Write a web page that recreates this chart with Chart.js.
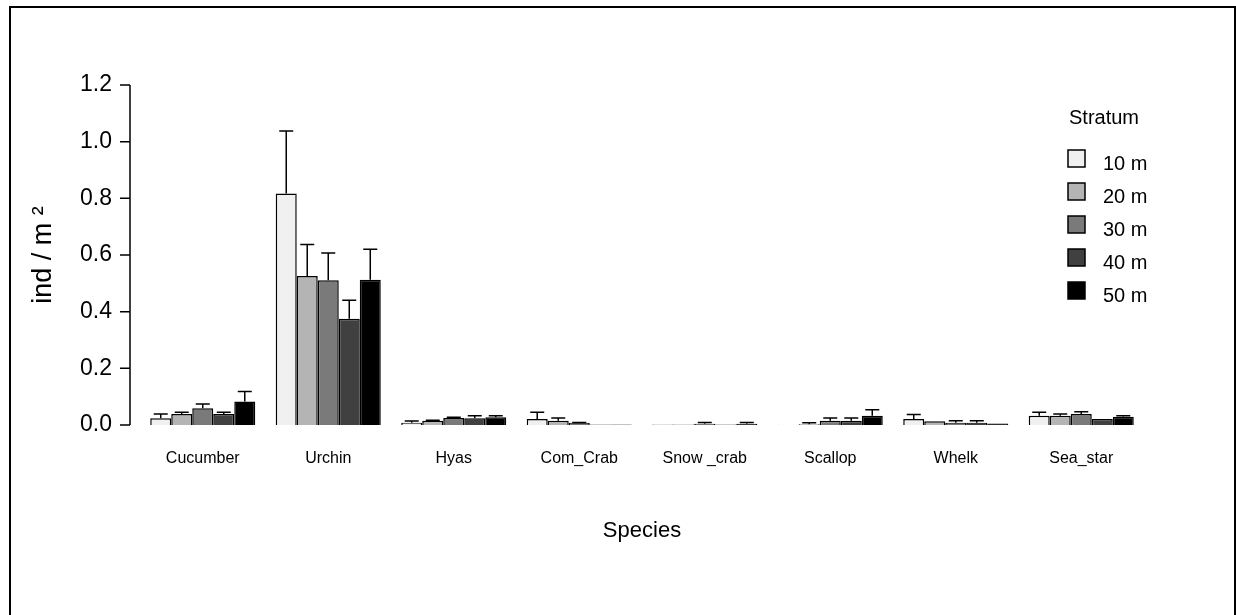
<!DOCTYPE html>
<html>
<head>
<meta charset="utf-8">
<script src="https://cdn.jsdelivr.net/npm/chart.js@4.4.1/dist/chart.umd.min.js"></script>
<style>
  html, body { margin: 0; padding: 0; background: #fff; }
</style>
</head>
<body>
<canvas id="myChart" width="1236" height="615"></canvas>
<script>
const FONT = "'Liberation Sans', Arial, sans-serif";

const species = ['Cucumber', 'Urchin', 'Hyas', 'Com_Crab', 'Snow _crab', 'Scallop', 'Whelk', 'Sea_star'];
const strata = ['10 m', '20 m', '30 m', '40 m', '50 m'];
const fills = ['#f0f0f0', '#b4b4b4', '#7a7a7a', '#404040', '#000000'];
const yTicks = [0, 0.2, 0.4, 0.6, 0.8, 1.0, 1.2];

// mean density per stratum (ind / m2)
const mean10 = [0.024, 0.817, 0.008, 0.021, 0.002, 0.001, 0.021, 0.033];
const mean20 = [0.039, 0.526, 0.015, 0.015, 0.002, 0.003, 0.013, 0.033];
const mean30 = [0.059, 0.511, 0.025, 0.008, 0.004, 0.015, 0.008, 0.039];
const mean40 = [0.039, 0.375, 0.024, 0.002, 0.002, 0.015, 0.008, 0.021];
const mean50 = [0.083, 0.513, 0.027, 0.002, 0.004, 0.033, 0.005, 0.029];

// standard errors (upper whisker only)
const se10 = [0.015, 0.221, 0.006, 0.024, 0, 0, 0.016, 0.012];
const se20 = [0.006, 0.111, 0.002, 0.010, 0, 0.005, 0, 0.006];
const se30 = [0.015, 0.096, 0.002, 0.001, 0.005, 0.010, 0.007, 0.008];
const se40 = [0.006, 0.065, 0.009, 0, 0, 0.010, 0.007, 0];
const se50 = [0.035, 0.107, 0.006, 0, 0.005, 0.021, 0, 0.004];

const means = [mean10, mean20, mean30, mean40, mean50];
const ses = [se10, se20, se30, se40, se50];

const frame = {
    id: 'frame',
    beforeDraw(chart) {
        const c = chart.ctx;
        c.save();
        c.fillStyle = '#fff';
        c.fillRect(0, 0, chart.width, chart.height);
        c.strokeStyle = '#000';
        c.lineWidth = 2;
        c.strokeRect(10, 7, 1225, 700);
        c.restore();
    }
};

// y axis line sits a bit left of the first bars
const yAxisLine = {
    id: 'yAxisLine',
    afterDraw(chart) {
        const y = chart.scales.y;
        const c = chart.ctx;
        const x0 = chart.chartArea.left - 10;
        c.save();
        c.strokeStyle = '#000';
        c.lineWidth = 1.5;
        c.beginPath();
        c.moveTo(x0, y.getPixelForValue(0));
        c.lineTo(x0, y.getPixelForValue(1.2));
        yTicks.forEach(t => {
            const py = y.getPixelForValue(t);
            c.moveTo(x0 - 10, py);
            c.lineTo(x0, py);
        });
        c.stroke();
        c.restore();
    }
};

const errorBars = {
    id: 'errorBars',
    afterDatasetsDraw(chart) {
        const c = chart.ctx;
        const y = chart.scales.y;
        c.save();
        c.strokeStyle = '#000';
        c.lineWidth = 1.5;
        chart.data.datasets.forEach((ds, i) => {
            chart.getDatasetMeta(i).data.forEach((bar, j) => {
                const s = ds.se[j];
                if (!s) return;
                const top = y.getPixelForValue(ds.data[j]);
                const end = y.getPixelForValue(ds.data[j] + s);
                c.beginPath();
                c.moveTo(bar.x, top);
                c.lineTo(bar.x, end);
                c.moveTo(bar.x - 7, end);
                c.lineTo(bar.x + 7, end);
                c.stroke();
            });
        });
        c.restore();
    }
};

const stratumLegend = {
    id: 'stratumLegend',
    afterDraw(chart) {
        const c = chart.ctx;
        c.save();
        c.font = '20px ' + FONT;
        c.textBaseline = 'middle';
        c.textAlign = 'left';
        c.fillStyle = '#000';
        c.fillText('Stratum', 1069, 118);
        chart.data.datasets.forEach((ds, i) => {
            const yy = 150 + i * 33;
            c.fillStyle = ds.backgroundColor;
            c.fillRect(1068, yy, 17, 17);
            c.strokeStyle = '#000';
            c.lineWidth = 1.5;
            c.strokeRect(1068, yy, 17, 17);
            c.fillStyle = '#000';
            c.fillText(ds.label, 1103, yy + 14);
        });
        c.restore();
    }
};

const ctx = document.getElementById('myChart').getContext('2d');

const myChart = new Chart(ctx, {
    type: 'bar',
    data: {
        labels: species,
        datasets: strata.map((s, i) => ({
            label: s,
            data: means[i],
            se: ses[i],
            backgroundColor: fills[i],
            borderColor: '#000',
            borderWidth: 1.5,
            categoryPercentage: 0.837,
            barPercentage: 1.0
        }))
    },
    options: {
        responsive: false,
        animation: false,
        layout: { padding: { top: 85, left: 0, right: 92, bottom: 0 } },
        plugins: { legend: { display: false }, tooltip: { enabled: false } },
        scales: {
            x: {
                grid: { display: false, drawTicks: false },
                border: { display: false },
                ticks: { color: '#000', font: { family: FONT, size: 16 }, padding: 24, maxRotation: 0, autoSkip: false },
                title: { display: true, text: 'Species', color: '#000', font: { family: FONT, size: 22 }, padding: { top: 0, bottom: 71 } },
                afterFit(s) { s.height = 190; }
            },
            y: {
                min: 0,
                max: 1.2,
                grid: { display: false, drawTicks: false },
                border: { display: false },
                ticks: { stepSize: 0.2, color: '#000', font: { family: FONT, size: 23 }, padding: 28,
                    callback: v => v.toFixed(1) },
                title: { display: true, text: 'ind / m \u00b2', color: '#000', font: { family: FONT, size: 27 }, padding: { top: 27, bottom: 0 } },
                afterFit(s) { s.width = 140; }
            }
        }
    },
    plugins: [frame, yAxisLine, errorBars, stratumLegend]
});
</script>
</body>
</html>
